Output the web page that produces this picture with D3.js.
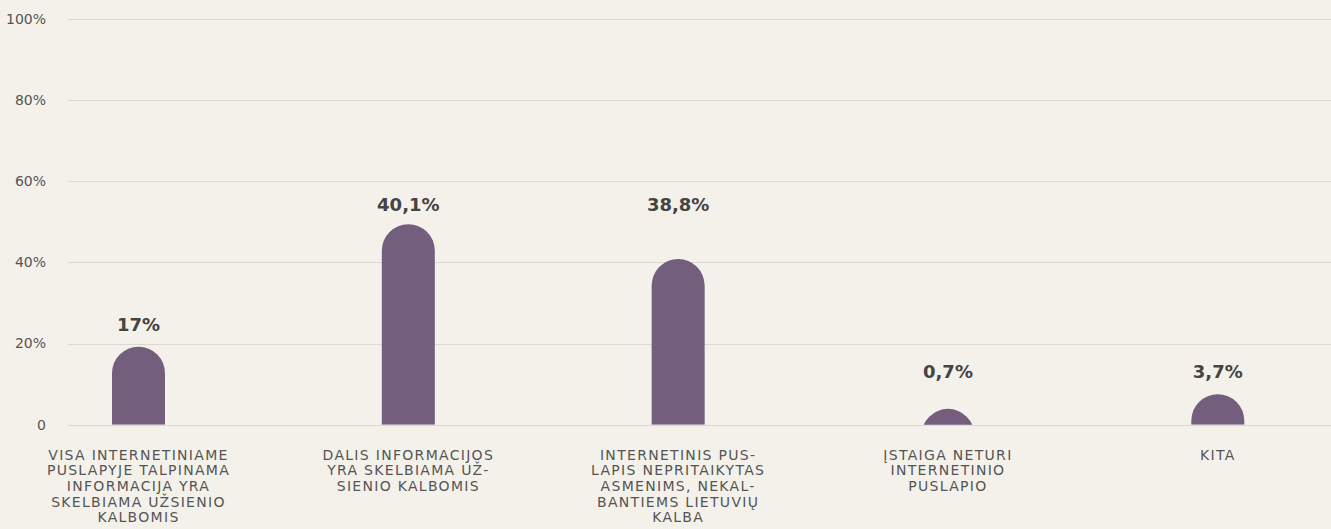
<!DOCTYPE html>
<html><head><meta charset="utf-8">
<script src="https://cdn.jsdelivr.net/npm/d3@7"></script>
<style>
html,body{margin:0;padding:0;background:#f4f1ea;}
svg{display:block;}
</style></head>
<body>
<svg id="chart" width="1331" height="529"></svg>
<script>
// Data
const categories = [
  ["VISA INTERNETINIAME","PUSLAPYJE TALPINAMA","INFORMACIJA YRA","SKELBIAMA UŽSIENIO","KALBOMIS"],
  ["DALIS INFORMACIJOS","YRA SKELBIAMA UŽ-","SIENIO KALBOMIS"],
  ["INTERNETINIS PUS-","LAPIS NEPRITAIKYTAS","ASMENIMS, NEKAL-","BANTIEMS LIETUVIŲ","KALBA"],
  ["ĮSTAIGA NETURI","INTERNETINIO","PUSLAPIO"],
  ["KITA"]
];
const barValues = [19.2, 49.4, 40.8, 3.9, 7.5];       // drawn bar heights (%)
const valueLabels = ["17%", "40,1%", "38,8%", "0,7%", "3,7%"];
const labelLevels = [23.1, 52.6, 52.6, 11.5, 11.5];    // where value labels sit (%)
const yTicks = [0, 20, 40, 60, 80, 100];
const yTickLabels = ["0", "20%", "40%", "60%", "80%", "100%"];

const svg = d3.select("#chart");
const W = 1331, H = 529;
const y = d3.scaleLinear().domain([0, 100]).range([424.7, 18.7]);
const x = d3.scalePoint().domain(d3.range(categories.length)).range([138.5, 1217.8]);
const barW = 53, r = barW / 2;

const FONT = "'DejaVu Sans', sans-serif";

// grid
svg.append("g").selectAll("line").data(yTicks).join("line")
  .attr("x1", 68).attr("x2", W)
  .attr("y1", d => Math.round(y(d)) + 0.5).attr("y2", d => Math.round(y(d)) + 0.5)
  .attr("stroke", "#dcd9d2").attr("stroke-width", 1);

// y tick labels
svg.append("g").selectAll("text").data(yTicks).join("text")
  .attr("x", 46).attr("y", d => y(d))
  .attr("dy", "0.35em")
  .attr("text-anchor", "end")
  .style("font-family", FONT).style("font-size", "14px").attr("fill", "#555")
  .text((d, i) => yTickLabels[i]);

// clip
svg.append("clipPath").attr("id", "plotclip")
  .append("rect").attr("x", 0).attr("y", 0).attr("width", W).attr("height", y(0));

// bars: capsule with rounded top
svg.append("g").attr("clip-path", "url(#plotclip)")
  .selectAll("path").data(barValues).join("path")
  .attr("fill", "#735e7d")
  .attr("d", (v, i) => {
    const cx = x(i), top = y(v), y0 = y(0);
    const cy = top + r;
    const bottom = Math.max(y0, cy);
    return `M${cx - r},${bottom} L${cx - r},${cy} A${r},${r} 0 0 1 ${cx + r},${cy} L${cx + r},${bottom} Z`;
  });

// value labels
svg.append("g").selectAll("text").data(valueLabels).join("text")
  .attr("x", (d, i) => x(i)).attr("y", (d, i) => y(labelLevels[i]))
  .attr("text-anchor", "middle")
  .style("font-family", FONT).style("font-size", "18px").style("font-weight", "bold")
  .attr("fill", "#444")
  .text(d => d);

// category labels
const cat = svg.append("g").selectAll("text").data(categories).join("text")
  .attr("x", (d, i) => x(i)).attr("y", 459.5)
  .attr("text-anchor", "middle")
  .style("font-family", FONT).style("font-size", "14px")
  .style("letter-spacing", "1.3px")
  .attr("fill", "#555");
cat.selectAll("tspan").data(d => d).join("tspan")
  .attr("x", function() { return d3.select(this.parentNode).attr("x"); })
  .attr("dy", (d, j) => j === 0 ? 0 : 15.7)
  .text(d => d);
</script>
</body></html>
